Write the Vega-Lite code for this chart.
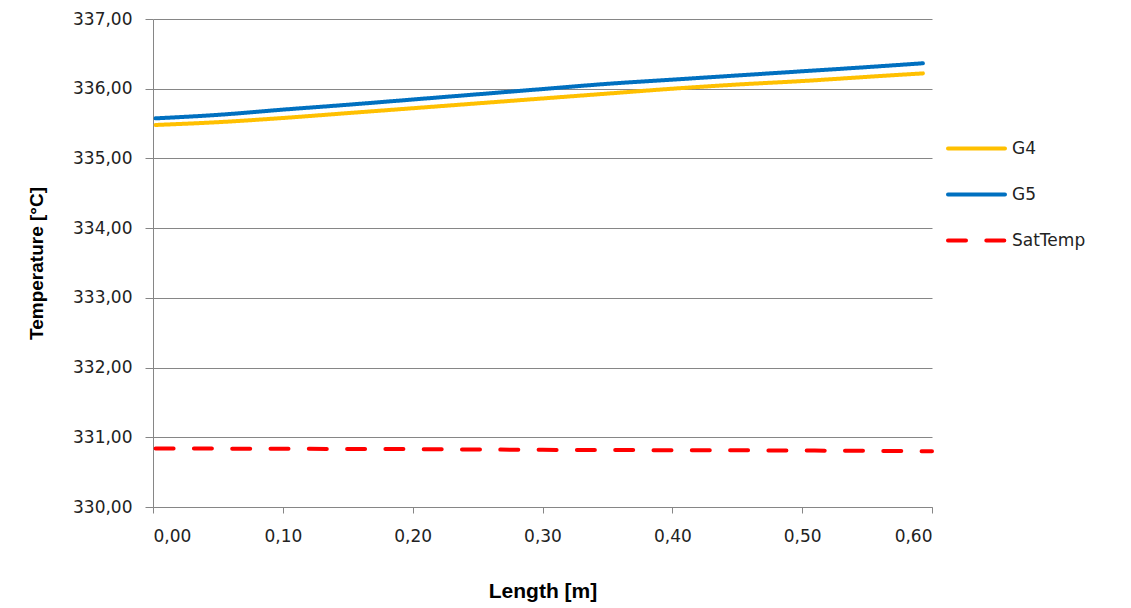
{
  "$schema": "https://vega.github.io/schema/vega-lite/v6.json",
  "width": 779,
  "height": 488,
  "autosize": {"type": "none"},
  "padding": {"left": 153, "top": 19, "right": 199, "bottom": 101},
  "background": "white",
  "config": {
    "view": {"stroke": null},
    "font": "DejaVu Sans",
    "axis": {
      "labelFont": "DejaVu Sans",
      "labelFontSize": 17,
      "labelColor": "#222222",
      "titleFont": "Liberation Sans",
      "titleFontWeight": "bold",
      "titleFontSize": 19,
      "titleColor": "#000000",
      "domainColor": "#868686",
      "tickColor": "#868686",
      "gridColor": "#868686",
      "gridOpacity": 1,
      "domainWidth": 1,
      "tickWidth": 1,
      "gridWidth": 1
    },
    "legend": {
      "labelFont": "DejaVu Sans",
      "labelFontSize": 17,
      "labelColor": "#222222"
    }
  },
  "data": {
    "values": [
      {"length": 0.002, "series": "G4", "temp": 335.48},
      {"length": 0.05, "series": "G4", "temp": 335.52},
      {"length": 0.1, "series": "G4", "temp": 335.58},
      {"length": 0.15, "series": "G4", "temp": 335.65},
      {"length": 0.2, "series": "G4", "temp": 335.72},
      {"length": 0.25, "series": "G4", "temp": 335.79},
      {"length": 0.3, "series": "G4", "temp": 335.86},
      {"length": 0.35, "series": "G4", "temp": 335.93},
      {"length": 0.4, "series": "G4", "temp": 336.00},
      {"length": 0.45, "series": "G4", "temp": 336.06},
      {"length": 0.5, "series": "G4", "temp": 336.11},
      {"length": 0.55, "series": "G4", "temp": 336.17},
      {"length": 0.593, "series": "G4", "temp": 336.22},
      {"length": 0.002, "series": "G5", "temp": 335.575},
      {"length": 0.05, "series": "G5", "temp": 335.625},
      {"length": 0.1, "series": "G5", "temp": 335.70},
      {"length": 0.15, "series": "G5", "temp": 335.77},
      {"length": 0.2, "series": "G5", "temp": 335.845},
      {"length": 0.25, "series": "G5", "temp": 335.92},
      {"length": 0.3, "series": "G5", "temp": 335.995},
      {"length": 0.35, "series": "G5", "temp": 336.07},
      {"length": 0.4, "series": "G5", "temp": 336.13},
      {"length": 0.45, "series": "G5", "temp": 336.19},
      {"length": 0.5, "series": "G5", "temp": 336.25},
      {"length": 0.55, "series": "G5", "temp": 336.31},
      {"length": 0.593, "series": "G5", "temp": 336.365},
      {"length": 0.002, "series": "SatTemp", "temp": 330.84},
      {"length": 0.1, "series": "SatTemp", "temp": 330.835},
      {"length": 0.2, "series": "SatTemp", "temp": 330.83},
      {"length": 0.3, "series": "SatTemp", "temp": 330.82},
      {"length": 0.4, "series": "SatTemp", "temp": 330.815},
      {"length": 0.5, "series": "SatTemp", "temp": 330.81},
      {"length": 0.6, "series": "SatTemp", "temp": 330.80}
    ]
  },
  "mark": {"type": "line", "strokeWidth": 4, "strokeCap": "round", "interpolate": "monotone", "clip": false},
  "encoding": {
    "x": {
      "field": "length",
      "type": "quantitative",
      "title": "Length [m]",
      "scale": {"domain": [0, 0.6], "nice": false, "zero": false},
      "axis": {
        "values": [0, 0.1, 0.2, 0.3, 0.4, 0.5, 0.6],
        "labelExpr": "replace(format(datum.value, '.2f'), '.', ',')",
        "grid": false,
        "tickSize": 6,
        "labelPadding": 15,
        "titlePadding": 36,
        "titleFontSize": 21
      }
    },
    "y": {
      "field": "temp",
      "type": "quantitative",
      "title": "Temperature [°C]",
      "scale": {"domain": [330, 337], "nice": false, "zero": false},
      "axis": {
        "values": [330, 331, 332, 333, 334, 335, 336, 337],
        "labelExpr": "replace(format(datum.value, '.2f'), '.', ',')",
        "grid": true,
        "tickSize": 8,
        "labelPadding": 13,
        "titlePadding": 26
      }
    },
    "color": {
      "field": "series",
      "type": "nominal",
      "scale": {"domain": ["G4", "G5", "SatTemp"], "range": ["#FFC000", "#0070C0", "#FF0000"]},
      "legend": {
        "title": null,
        "orient": "none",
        "legendX": 793,
        "legendY": 99,
        "symbolType": "stroke",
        "symbolSize": 3249,
        "symbolStrokeWidth": 4,
        "rowPadding": 7,
        "labelOffset": 5,
        "encode": {"symbols": {"update": {"strokeCap": {"value": "round"}}}}
      }
    },
    "strokeDash": {
      "field": "series",
      "type": "nominal",
      "scale": {"domain": ["G4", "G5", "SatTemp"], "range": [[1, 0], [1, 0], [18, 20.3]]},
      "legend": {
        "title": null,
        "orient": "none",
        "legendX": 793,
        "legendY": 99,
        "symbolType": "stroke",
        "symbolSize": 3249,
        "symbolStrokeWidth": 4,
        "rowPadding": 7,
        "labelOffset": 5,
        "encode": {"symbols": {"update": {"strokeCap": {"value": "round"}}}}
      }
    }
  }
}
